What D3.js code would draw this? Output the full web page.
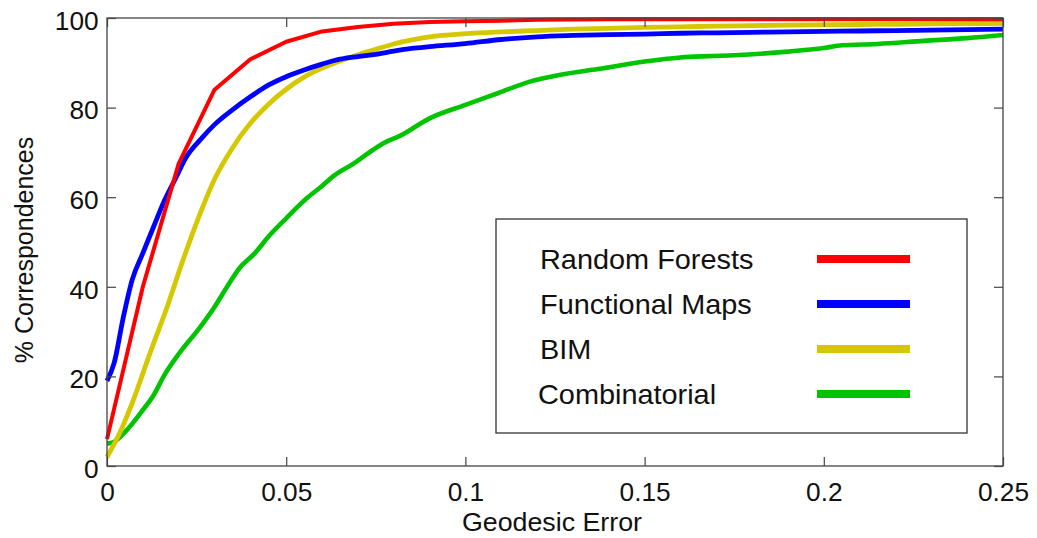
<!DOCTYPE html>
<html lang="en">
<head>
<meta charset="UTF-8">
<title>Correspondences vs Geodesic Error</title>
<script src="https://d3js.org/d3.v7.min.js"></script>
<style>
  body { margin: 0; background: #fff; }
  text { font-family: "Liberation Sans", Arial, sans-serif; fill: #111; }
</style>
</head>
<body>
<svg id="chart" width="1037" height="538"></svg>
<script>
// values
var seriesNames = ["Random Forests", "Functional Maps", "BIM", "Combinatorial"];
var seriesColors = ["#ff0000", "#0000ff", "#d6c800", "#00c400"];

var xTicks = [0, 0.05, 0.1, 0.15, 0.2, 0.25];
var yTicks = [0, 20, 40, 60, 80, 100];

var rfX = [0, 0.01, 0.02, 0.03, 0.04, 0.05, 0.06, 0.07, 0.08, 0.09, 0.1, 0.11, 0.12, 0.13,
           0.14, 0.15, 0.16, 0.17, 0.18, 0.19, 0.2, 0.21, 0.22, 0.23, 0.24, 0.25];
var rfY = [6, 40, 67.5, 84, 90.8, 94.7, 97, 98, 98.7, 99.1, 99.3, 99.4, 99.6, 99.65,
           99.7, 99.7, 99.7, 99.7, 99.7, 99.7, 99.7, 99.7, 99.7, 99.7, 99.7, 99.7];

var fmX = [0, 0.002, 0.0045, 0.007, 0.01, 0.013, 0.016, 0.019, 0.022, 0.026, 0.03, 0.035,
           0.04, 0.045, 0.05, 0.055, 0.06, 0.065, 0.07, 0.075, 0.08, 0.085, 0.09, 0.1,
           0.11, 0.12, 0.13, 0.14, 0.15, 0.16, 0.17, 0.18, 0.19, 0.2, 0.21, 0.22, 0.23, 0.24, 0.25];
var fmY = [19, 23, 33, 41.5, 47.5, 53.4, 59.2, 64, 68.8, 72.8, 76.2, 79.5,
           82.4, 85, 86.9, 88.4, 89.7, 90.8, 91.4, 91.9, 92.6, 93.2, 93.6, 94.3,
           95.2, 95.8, 96.1, 96.3, 96.4, 96.6, 96.7, 96.8, 96.9, 97, 97.1, 97.2, 97.3, 97.4, 97.5];

var bimX = [0, 0.0035, 0.007, 0.012, 0.017, 0.021, 0.026, 0.03, 0.035, 0.04, 0.045, 0.05,
            0.055, 0.06, 0.065, 0.07, 0.075, 0.08, 0.09, 0.1, 0.11, 0.12, 0.13, 0.14, 0.15,
            0.16, 0.17, 0.18, 0.19, 0.2, 0.21, 0.22, 0.23, 0.24, 0.25];
var bimY = [2, 7.3, 14, 25.2, 36, 45.5, 56.4, 64, 71, 76.5, 80.7, 84.1,
            86.8, 88.8, 90.4, 91.8, 93, 94.2, 95.8, 96.5, 96.9, 97.2, 97.5, 97.7, 97.9,
            98, 98.2, 98.3, 98.4, 98.5, 98.55, 98.6, 98.7, 98.75, 98.8];

var combX = [0, 0.002, 0.0055, 0.01, 0.013, 0.016, 0.02, 0.026, 0.03, 0.0335, 0.037, 0.041,
             0.0455, 0.05, 0.0555, 0.06, 0.063, 0.069, 0.0725, 0.077, 0.082, 0.09, 0.1,
             0.109, 0.118, 0.127, 0.137, 0.15, 0.16, 0.168, 0.175, 0.19, 0.2, 0.205, 0.215,
             0.228, 0.24, 0.25];
var combY = [5, 5.4, 8, 12.5, 15.8, 20.3, 25, 31, 35.5, 40, 44.2, 47.3,
             51.6, 55.3, 59.6, 62.5, 64.6, 67.6, 69.6, 72, 73.8, 77.6, 80.6,
             83.2, 85.8, 87.4, 88.6, 90.3, 91.2, 91.5, 91.7, 92.5, 93.3, 93.9, 94.2,
             94.9, 95.5, 96.2];

var allX = [rfX, fmX, bimX, combX];
var allY = [rfY, fmY, bimY, combY];
var lineWidths = [4, 4.8, 4.8, 4.6];

var svg = d3.select("#chart");
var plotL = 107, plotR = 1003, plotT = 18, plotB = 466;
var stretch = "scale(1.05,1)";

var x = d3.scaleLinear().domain([0, 0.25]).range([plotL, plotR]);
var y = d3.scaleLinear().domain([0, 100]).range([plotB, plotT]);

// curves, green first so red ends on top; red is piecewise linear, the rest smooth
[3, 2, 1, 0].forEach(function(i) {
  var pts = allX[i].map(function(v, j){ return [v, allY[i][j]]; });
  var line = d3.line()
    .x(function(d){ return x(d[0]); })
    .y(function(d){ return y(d[1]); })
    .curve(i === 0 ? d3.curveLinear : d3.curveMonotoneX);
  svg.append("path")
    .datum(pts)
    .attr("d", line)
    .attr("fill", "none")
    .attr("stroke", seriesColors[i])
    .attr("stroke-width", lineWidths[i])
    .attr("stroke-linejoin", "round");
});

// axes with inward ticks on all four sides
function styleAxis(g) {
  g.select(".domain").remove();
  g.selectAll(".tick line").attr("stroke", "#444").attr("stroke-width", 1.2);
  g.selectAll("text").attr("fill", "#111").style("font-size", "25px");
}

svg.append("g").attr("transform", "translate(0," + plotB + ")")
  .call(d3.axisBottom(x).tickValues(xTicks).tickSizeInner(-9).tickSizeOuter(0).tickPadding(17)
        .tickFormat(function(d){ return d === 0 ? "0" : String(d); }))
  .call(styleAxis)
  .call(function(g){ g.selectAll("text").attr("transform", stretch); });

svg.append("g").attr("transform", "translate(0," + plotT + ")")
  .call(d3.axisTop(x).tickValues(xTicks).tickSizeInner(-9).tickSizeOuter(0).tickFormat(""))
  .call(styleAxis);

svg.append("g").attr("transform", "translate(" + plotL + ",0)")
  .call(d3.axisLeft(y).tickValues(yTicks).tickSizeInner(-9).tickSizeOuter(0).tickPadding(8))
  .call(styleAxis)
  .call(function(g){ g.selectAll("text").attr("dy", "0.45em").attr("transform", stretch); });

svg.append("g").attr("transform", "translate(" + plotR + ",0)")
  .call(d3.axisRight(y).tickValues(yTicks).tickSizeInner(-9).tickSizeOuter(0).tickFormat(""))
  .call(styleAxis);

svg.append("rect")
  .attr("x", plotL).attr("y", plotT)
  .attr("width", plotR - plotL).attr("height", plotB - plotT)
  .attr("fill", "none").attr("stroke", "#444").attr("stroke-width", 1.3);

// axis titles
svg.append("text")
  .attr("transform", "translate(" + ((plotL + plotR) / 2 - 3) + ",531) " + stretch)
  .attr("text-anchor", "middle")
  .style("font-size", "25.5px")
  .text("Geodesic Error");

svg.append("text")
  .attr("transform", "translate(33,250) scale(1.05,1) rotate(-90)")
  .attr("text-anchor", "middle")
  .style("font-size", "25px")
  .text("% Correspondences");

// legend
var legend = svg.append("g");
legend.append("rect")
  .attr("x", 496).attr("y", 219).attr("width", 471).attr("height", 214)
  .attr("fill", "#fff").attr("stroke", "#333").attr("stroke-width", 1.3);

seriesNames.forEach(function(name, i) {
  var rowY = 259 + i * 45;
  legend.append("text")
    .attr("transform", "translate(" + (i === 3 ? 538 : 540) + "," + (rowY + 10) + ") " + stretch)
    .style("font-size", "27.5px")
    .text(name);
  legend.append("line")
    .attr("x1", 817).attr("x2", 910)
    .attr("y1", rowY).attr("y2", rowY)
    .attr("stroke", seriesColors[i])
    .attr("stroke-width", 8);
});
</script>
</body>
</html>
